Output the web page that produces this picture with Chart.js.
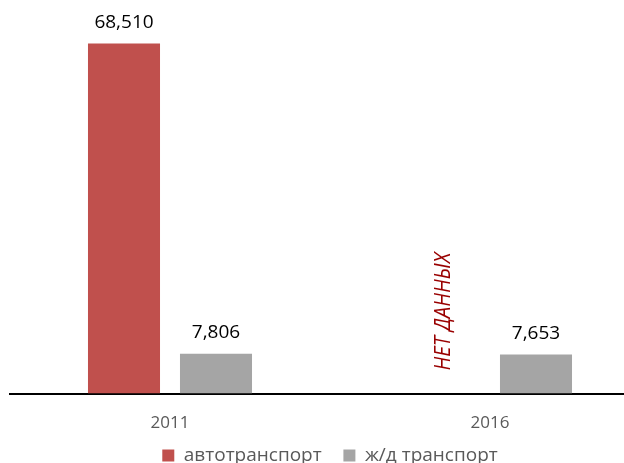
<!DOCTYPE html>
<html><head><meta charset="utf-8">
<script src="https://cdn.jsdelivr.net/npm/chart.js@4/dist/chart.umd.min.js"></script>
<style>html,body{margin:0;padding:0;background:#fff;overflow:hidden;width:624px;height:463px}
#wrap{position:absolute;left:0;top:0;width:660px;height:475px}</style>
</head><body>
<div id="wrap"><canvas id="c"></canvas></div>
<script>
const categories = ['2011', '2016'];
const autoValues = [68510, null];
const railValues = [7806, 7653];
const seriesNames = ['автотранспорт', 'ж/д транспорт'];
const noDataText = 'НЕТ ДАННЫХ';

const labelPlugin = {
  id: 'labels',
  afterDatasetsDraw(chart) {
    const ctx = chart.ctx;
    ctx.save();
    chart.data.datasets.forEach((ds, di) => {
      const meta = chart.getDatasetMeta(di);
      meta.data.forEach((el, i) => {
        const v = ds.data[i];
        if (v == null) return;
        ctx.font = '19px "Open Sans"';
        ctx.fillStyle = '#000';
        ctx.textAlign = 'center';
        ctx.textBaseline = 'middle';
        ctx.fillText(v.toLocaleString('en-US'), el.x, el.y - 21);
      });
    });
    const meta0 = chart.getDatasetMeta(0);
    const metaR = chart.getDatasetMeta(1);
    autoValues.forEach((v, i) => {
      if (v != null) return;
      const off = metaR.data[0].x - meta0.data[0].x;
      const x = metaR.data[i].x - off;
      const yb = chart.scales.y.getPixelForValue(0) - 23;
      ctx.save();
      ctx.translate(x, yb);
      ctx.rotate(-Math.PI / 2);
      ctx.font = 'italic 22px "Open Sans"';
      const w = ctx.measureText(noDataText).width;
      ctx.scale(118 / w, 1);
      ctx.fillStyle = '#990000';
      ctx.textAlign = 'left';
      ctx.textBaseline = 'middle';
      ctx.fillText(noDataText, 0, 0);
      ctx.restore();
    });
    ctx.restore();
  }
};

new Chart(document.getElementById('c'), {
  type: 'bar',
  data: {
    labels: categories,
    datasets: [
      { label: seriesNames[0], data: autoValues, backgroundColor: '#C0504D' },
      { label: seriesNames[1], data: railValues, backgroundColor: '#A5A5A5' }
    ]
  },
  options: {
    responsive: true,
    maintainAspectRatio: false,
    animation: false,
    categoryPercentage: 0.575,
    barPercentage: 0.783,
    layout: { padding: { left: 10, right: 10, top: 0, bottom: 0 } },
    plugins: {
      legend: {
        position: 'bottom',
        labels: {
          boxWidth: 12, boxHeight: 12, font: { size: 19, family: '"Open Sans"' }, color: '#595959', padding: 2,
          generateLabels(chart) {
            const items = Chart.defaults.plugins.legend.labels.generateLabels(chart);
            items.forEach((it, i) => { if (i < items.length - 1) it.text = it.text + '    '; });
            return items;
          }
        }
      },
      tooltip: { enabled: false }
    },
    scales: {
      x: {
        grid: { display: false },
        border: { color: '#000', width: 2 },
        ticks: { font: { size: 17, family: '"Open Sans"' }, color: '#595959', padding: 11 }
      },
      y: { display: false, min: 0, max: 77000 }
    }
  },
  plugins: [labelPlugin]
});
</script>
</body></html>
